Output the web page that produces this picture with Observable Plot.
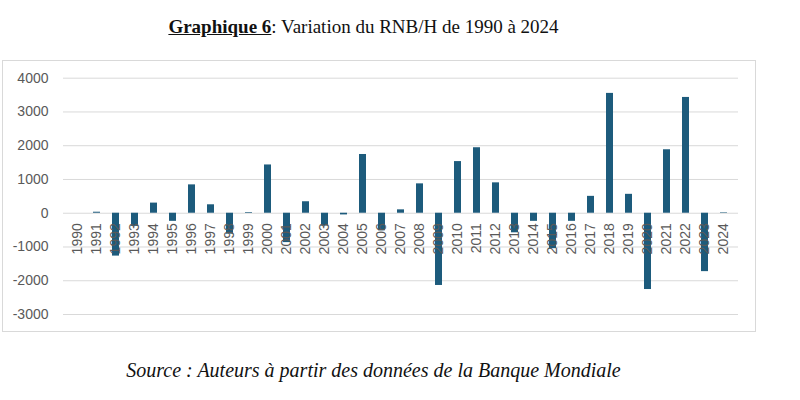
<!DOCTYPE html>
<html>
<head>
<meta charset="utf-8">
<script src="https://cdn.jsdelivr.net/npm/d3@7"></script>
<script src="https://cdn.jsdelivr.net/npm/@observablehq/plot@0.6"></script>
<style>
  html, body { margin: 0; padding: 0; background: #fff; }
  body { width: 800px; height: 400px; position: relative; overflow: hidden; }
  #title { position: absolute; left: 0; width: 727px; top: 16px; line-height: 22px; text-align: center;
           font-family: "Liberation Serif", "Times New Roman", serif; font-size: 19px; color: #111; }
  #title b { text-decoration: underline; }
  #frame { position: absolute; left: 2px; top: 60px; width: 754px; height: 272px; box-sizing: border-box;
           border: 1px solid #d9d9d9; background: #fff; }
  #frame svg { display: block; }
  #caption { position: absolute; left: 0; width: 747px; top: 358px; line-height: 24px; text-align: center;
             font-family: "Liberation Serif", "Times New Roman", serif; font-style: italic; font-size: 20px; color: #111; }
</style>
</head>
<body>
<div id="title"><b>Graphique 6</b>: Variation du RNB/H de 1990 à 2024</div>
<div id="frame"></div>
<div id="caption">Source : Auteurs à partir des données de la Banque Mondiale</div>
<script>
const years = ["1990","1991","1992","1993","1994","1995","1996","1997","1998","1999",
               "2000","2001","2002","2003","2004","2005","2006","2007","2008","2009",
               "2010","2011","2012","2013","2014","2015","2016","2017","2018","2019",
               "2020","2021","2022","2023","2024"];
const values = [0, 30, -1270, -390, 300, -240, 840, 250, -620, 20,
                1430, -870, 340, -380, -50, 1740, -520, 100, 870, -2140,
                1530, 1940, 900, -580, -240, -1050, -240, 500, 3550, 560,
                -2260, 1880, 3430, -1730, 15];
const yTicks = [-3000, -2000, -1000, 0, 1000, 2000, 3000, 4000];

const data = years.map((year, i) => ({year, value: values[i]}));

const chart = Plot.plot({
  width: 752,
  height: 270,
  marginLeft: 60,
  marginRight: 17,
  marginTop: 16.7,
  marginBottom: 17,
  style: {fontFamily: "Liberation Sans, Arial, sans-serif", fontSize: "14px", color: "#595959", background: "transparent"},
  x: {type: "band", domain: years, paddingInner: 0.64, paddingOuter: 0.286, axis: null},
  y: {domain: [-3000, 4000], axis: null},
  marks: [
    Plot.gridY(yTicks, {stroke: "#d9d9d9", strokeOpacity: 1, strokeWidth: 1}),
    Plot.axisY(yTicks, {tickSize: 0, tickPadding: 15, fill: "#595959", fontSize: 14, label: null, tickFormat: d => String(d)}),
    Plot.barY(data, {x: "year", y: "value", fill: "#1d5b7c"}),
    Plot.text(data, {x: "year", y: () => 0, text: "year", rotate: -90, textAnchor: "end", dy: 10,
                     fill: "#595959", fontSize: 14})
  ]
});
document.getElementById("frame").appendChild(chart);
</script>
</body>
</html>
